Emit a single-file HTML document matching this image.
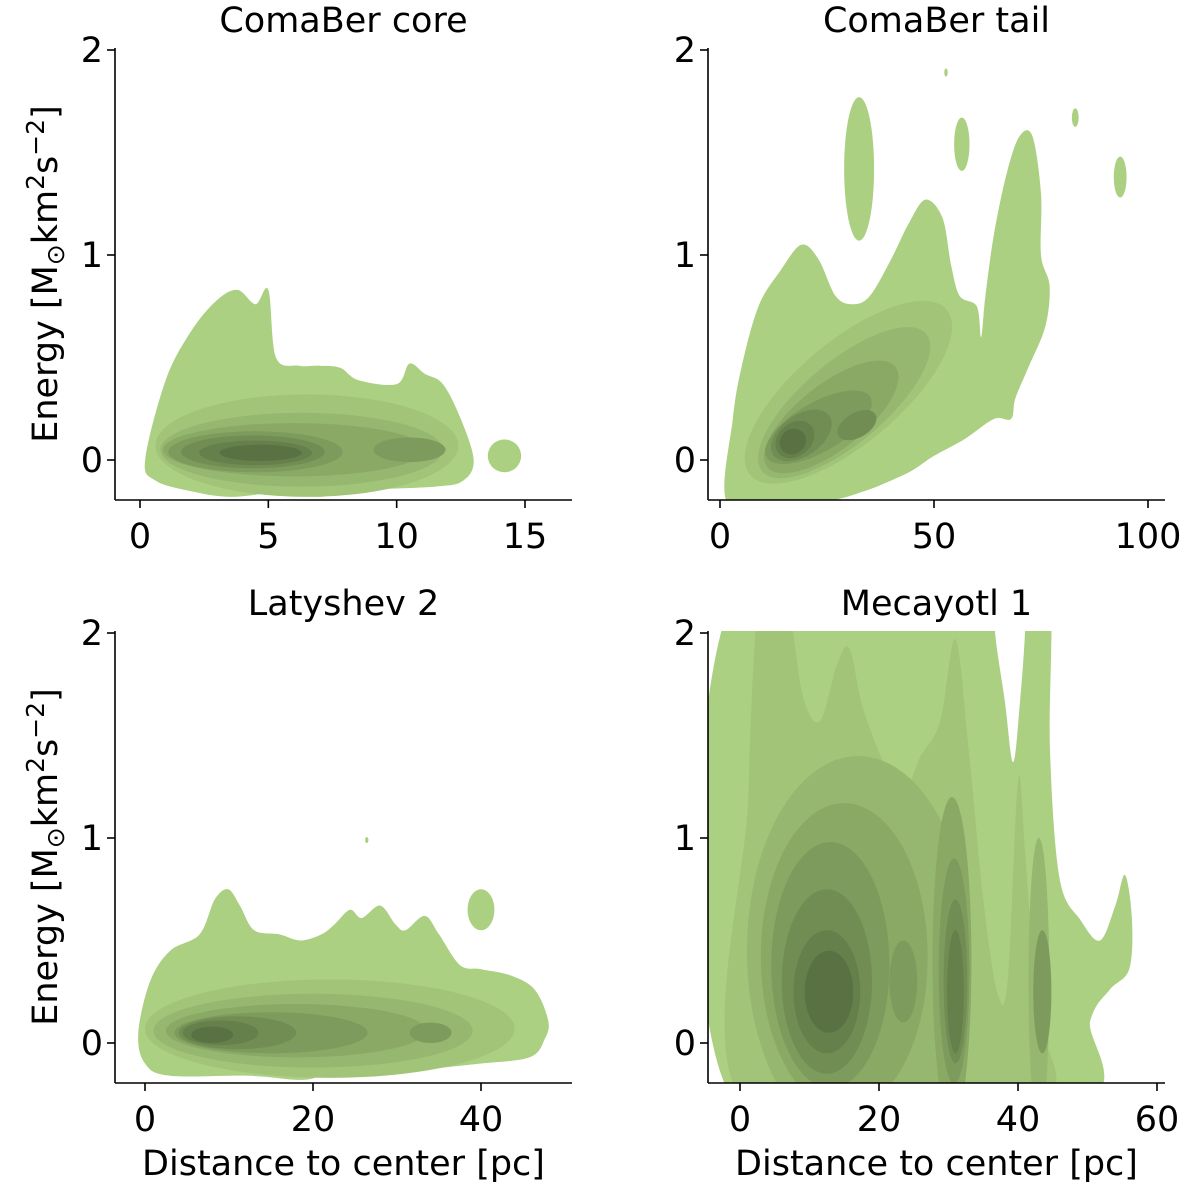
<!DOCTYPE html>
<html><head><meta charset="utf-8"><title>Energy vs distance KDE</title>
<style>
html,body{margin:0;padding:0;background:#fff;}
svg{display:block;font-family:"DejaVu Sans","Liberation Sans",sans-serif;}
</style></head>
<body>
<svg id="fig" width="1200" height="1194" viewBox="0 0 1200 1194" xmlns="http://www.w3.org/2000/svg"></svg>
<script>
// ---------- data (data coordinates) ----------
const levelColors = ['#acd082','#a1c479','#95b76f','#89a965','#7d9b5c','#718d53','#65804a','#5a7243','#4f633b'];

const p1Title = 'ComaBer core';
const p1XTicks = [0,5,10,15];
const p1YTicks = [0,1,2];
const p1Outer = [[0.2,0],[1,0.39],[2,0.63],[3,0.78],[3.8,0.83],[4.5,0.76],[5,0.83],[5.3,0.5],[6.2,0.46],[7,0.46],[7.8,0.45],[8.5,0.39],[10,0.37],[10.5,0.47],[11.1,0.42],[11.8,0.37],[12.5,0.2],[13,0],[12.6,-0.1],[11.5,-0.13],[8,-0.15],[7,-0.18],[5.4,-0.16],[3.5,-0.18],[1.9,-0.15],[0.6,-0.1]];
const p1Blobs = [[14.2,0.02,0.65,0.08,0,0],[6.5,0.07,5.9,0.25,0,1],[6.3,0.05,5.5,0.18,0,2],[6,0.05,5.1,0.13,0,3],[4.5,0.04,3.4,0.1,0,4],[10.5,0.05,1.4,0.06,0,4],[4.4,0.04,2.8,0.08,0,5],[4.5,0.035,2.2,0.06,0,6],[4.7,0.035,1.6,0.04,0,7]];

const p2Title = 'ComaBer tail';
const p2XTicks = [0,50,100];
const p2YTicks = [0,1,2];
const p2Outer = [[1.5,-0.2],[3,0.2],[5,0.45],[9,0.75],[14,0.92],[19,1.05],[23,0.98],[27,0.8],[31,0.76],[35,0.8],[40,0.98],[44,1.15],[48,1.27],[52,1.18],[54,0.95],[56,0.8],[60,0.75],[61,0.6],[62,0.8],[64,1.1],[67,1.4],[70,1.58],[73,1.58],[75,1.3],[75,1.0],[77,0.85],[76,0.65],[72,0.45],[69,0.3],[68,0.2],[64,0.2],[57,0.1],[50,0.02],[45,-0.05],[40,-0.1],[34,-0.15],[25,-0.2],[12,-0.2]];
const p2Blobs = [[32.5,1.42,3.5,0.35,0,0],[56.5,1.54,1.8,0.13,0,0],[83,1.67,0.8,0.045,0,0],[93.5,1.38,1.5,0.1,0,0],[52.8,1.89,0.4,0.02,0,0],
 [30,0.33,30,0.25,-40,1],[29,0.28,25,0.2,-40,2],[26,0.21,19,0.16,-38,3],[23,0.16,14,0.12,-30,4],[19,0.12,8,0.1,-35,5],[32,0.17,5,0.06,-30,5],[17.5,0.1,5,0.08,-40,6],[17,0.09,3.2,0.06,-40,7]];

const p3Title = 'Latyshev 2';
const p3XTicks = [0,20,40];
const p3YTicks = [0,1,2];
const p3Outer = [[-0.8,0.05],[0.6,0.3],[3,0.45],[6.5,0.53],[8.3,0.7],[9.9,0.75],[11.3,0.67],[13,0.55],[16,0.53],[18.5,0.5],[21,0.53],[22.6,0.58],[24.4,0.65],[25.8,0.61],[28,0.67],[29.8,0.58],[31,0.55],[33.3,0.62],[35,0.53],[37.5,0.38],[40,0.36],[43.5,0.33],[46.4,0.26],[48,0.11],[47.6,0.02],[45.8,-0.07],[40,-0.1],[32.7,-0.13],[22,-0.16],[18.5,-0.18],[12.5,-0.16],[3,-0.16],[0,-0.1]];
const p3Blobs = [[40,0.65,1.6,0.1,0,0],[26.4,0.99,0.2,0.015,0,0],[22,0.07,22,0.24,0,1],[20,0.06,19,0.18,0,2],[18,0.06,15.5,0.13,0,3],[15,0.05,11.5,0.1,0,4],[34,0.05,2.5,0.05,0,4],[11,0.05,7,0.08,0,5],[9,0.05,4.5,0.06,0,6],[8,0.04,2.5,0.04,0,7]];

const p4Title = 'Mecayotl 1';
const p4XTicks = [0,20,40,60];
const p4YTicks = [0,1,2];
const p4Outer = [[-0.7,-0.3],[-0.7,2.2],[36.7,2.2],[36.7,2],[38.1,1.67],[39.3,1.37],[40.3,1.67],[41,2],[41,2.2],[44.6,2.2],[44.6,1.43],[46,0.8],[49,0.6],[51.8,0.5],[54,0.67],[55.4,0.82],[56.4,0.6],[56,0.36],[53.2,0.26],[50.4,0.11],[48.2,-0.3]];
const p4Level2 = [[0.8,-0.3],[1.2,1.2],[2.9,2.2],[6.5,2.2],[9,1.7],[11.5,1.57],[14,1.85],[15.8,1.92],[18,1.6],[23,1.23],[26,1.4],[28.8,1.57],[31,1.97],[33,1.4],[35,0.7],[37,0.25],[38.5,0.3],[40,1.28],[41,0.94],[42.4,0.2],[42.4,-0.3]];
const p4Blobs = [[17,0.45,16,0.95,0,2],[43,0.3,1.5,0.7,0,2],[15,0.42,12,0.75,0,3],[30.5,0.4,2.8,0.8,0,3],[13,0.38,8.5,0.6,0,4],[30.8,0.35,2.2,0.55,0,4],[23.5,0.3,2,0.2,0,4],[43.5,0.25,1.3,0.3,0,4],[12.5,0.3,6.5,0.45,0,5],[31,0.3,1.7,0.4,0,5],[12.5,0.25,4.8,0.3,0,6],[31,0.25,1.2,0.3,0,6],[12.8,0.25,3.5,0.2,0,7]];

// ---------- helpers ----------
const NS='http://www.w3.org/2000/svg';
const svg=document.getElementById('fig');
function mk(tag,attrs,parent){const e=document.createElementNS(NS,tag);for(const k in attrs)e.setAttribute(k,attrs[k]);(parent||svg).appendChild(e);return e;}
function smoothPath(pts){
  const n=pts.length;let d='M'+pts[0][0]+','+pts[0][1];
  for(let i=0;i<n;i++){
    const p0=pts[(i-1+n)%n],p1=pts[i],p2=pts[(i+1)%n],p3=pts[(i+2)%n];
    const c1=[p1[0]+(p2[0]-p0[0])/6,p1[1]+(p2[1]-p0[1])/6];
    const c2=[p2[0]-(p3[0]-p1[0])/6,p2[1]-(p3[1]-p1[1])/6];
    d+=' C'+c1[0].toFixed(1)+','+c1[1].toFixed(1)+' '+c2[0].toFixed(1)+','+c2[1].toFixed(1)+' '+p2[0].toFixed(1)+','+p2[1].toFixed(1);
  }
  return d+'Z';
}

function panel(cfg,title,xTicks,yTicks,outer,extraPolys,blobs,id,showY,showX){
  const sx=v=>cfg.x0px+(v-cfg.x0v)*(cfg.x1px-cfg.x0px)/(cfg.x1v-cfg.x0v);
  const sy=v=>cfg.y0px+(v-0)*(cfg.y1px-cfg.y0px)/(1);
  const g=mk('g',{});
  
  
  const cp=mk('clipPath',{id:'clip-'+id},g);
  mk('rect',{x:cfg.L,y:cfg.T,width:cfg.R-cfg.L,height:cfg.B-cfg.T},cp);
  const pg=mk('g',{'clip-path':'url(#clip-'+id+')'},g);
  const o=mk('path',{d:smoothPath(outer.map(p=>[sx(p[0]),sy(p[1])])),fill:levelColors[0]},pg);
  
  
  extraPolys.forEach(ep=>{
    const e=mk('path',{d:smoothPath(ep.pts.map(p=>[sx(p[0]),sy(p[1])])),fill:levelColors[ep.level]},pg);
    
    
  });
  blobs.forEach(b=>{
    const cx=sx(b[0]),cy=sy(b[1]);
    const rx=Math.abs(sx(b[0]+b[2])-cx),ry=Math.abs(sy(b[1]+b[3])-cy);
    const e=mk('ellipse',{cx:cx,cy:cy,rx:rx,ry:ry,fill:levelColors[b[5]],transform:'rotate('+b[4]+' '+cx+' '+cy+')'},pg);
    
    
  });
  const ya=mk('line',{x1:cfg.L,y1:cfg.T,x2:cfg.L,y2:cfg.B,stroke:'#000','stroke-width':1.6},g);
  
  
  const xa=mk('line',{x1:cfg.L,y1:cfg.B,x2:cfg.R,y2:cfg.B,stroke:'#000','stroke-width':1.6},g);
  
  
  xTicks.forEach(t=>{
    const x=sx(t);
    mk('line',{x1:x,y1:cfg.B,x2:x,y2:cfg.B+8,stroke:'#000','stroke-width':1.6},g);
    const tx=mk('text',{x:x,y:cfg.B+48,'text-anchor':'middle','font-size':35,fill:'#000'},g);
    tx.textContent=t;
    
    
  });
  yTicks.forEach(t=>{
    const y=sy(t);
    mk('line',{x1:cfg.L-8,y1:y,x2:cfg.L,y2:y,stroke:'#000','stroke-width':1.6},g);
    const tx=mk('text',{x:cfg.L-12,y:y+12,'text-anchor':'end','font-size':35,fill:'#000'},g);
    tx.textContent=t;
    
    
  });
  const tt=mk('text',{x:(cfg.L+cfg.R)/2,y:cfg.T-16,'text-anchor':'middle','font-size':35,fill:'#000'},g);
  tt.textContent=title;
  
  
  if(showY){
    const cy=(cfg.T+cfg.B)/2;
    const yl=mk('text',{x:0,y:0,'text-anchor':'middle','font-size':35,fill:'#000',transform:'translate(57,'+cy+') rotate(-90)'},g);
    yl.innerHTML='Energy [M<tspan font-size="25" dy="7">⊙</tspan><tspan dy="-7">km</tspan><tspan font-size="25" dy="-13">2</tspan><tspan dy="13">s</tspan><tspan font-size="25" dy="-13">−2</tspan><tspan dy="13">]</tspan>';
    
    
  }
  if(showX){
    const xl=mk('text',{x:(cfg.L+cfg.R)/2,y:cfg.B+92,'text-anchor':'middle','font-size':35,fill:'#000'},g);
    xl.textContent='Distance to center [pc]';
    
    
  }
}

panel({L:115,R:572,T:48,B:500,x0v:0,x0px:140,x1v:15,x1px:525,y0px:460,y1px:255},p1Title,p1XTicks,p1YTicks,p1Outer,[],p1Blobs,'comaber-core',true,false);
panel({L:708,R:1165,T:48,B:500,x0v:0,x0px:720,x1v:100,x1px:1148,y0px:460,y1px:255},p2Title,p2XTicks,p2YTicks,p2Outer,[],p2Blobs,'comaber-tail',false,false);
panel({L:115,R:572,T:631,B:1083,x0v:0,x0px:145,x1v:40,x1px:481,y0px:1043,y1px:838},p3Title,p3XTicks,p3YTicks,p3Outer,[],p3Blobs,'latyshev-2',true,true);
panel({L:708,R:1165,T:631,B:1083,x0v:0,x0px:740,x1v:60,x1px:1157,y0px:1043,y1px:838},p4Title,p4XTicks,p4YTicks,p4Outer,[{pts:p4Level2,level:1}],p4Blobs,'mecayotl-1',false,true);
</script>
</body></html>
